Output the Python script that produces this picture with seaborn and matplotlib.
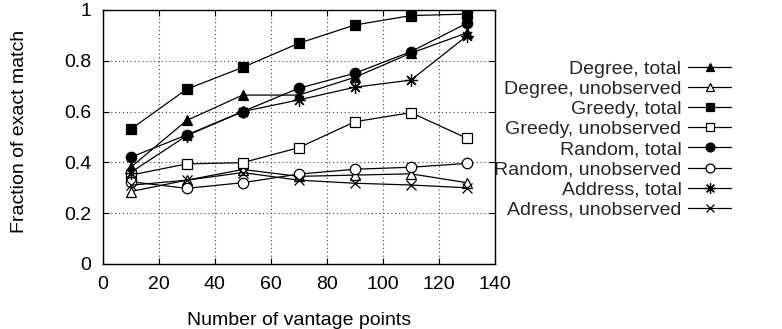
import matplotlib
matplotlib.use("Agg")
import matplotlib.pyplot as plt
import seaborn as sns
import pandas as pd

# Number of vantage points used in each run
vantage_points = [10, 30, 50, 70, 90, 110, 130]

degree_total = [0.38, 0.565, 0.665, 0.665, 0.735, 0.83, 0.91]
degree_unobserved = [0.285, 0.33, 0.372, 0.345, 0.35, 0.355, 0.32]
greedy_total = [0.53, 0.688, 0.774, 0.869, 0.941, 0.978, 0.984]
greedy_unobserved = [0.35, 0.394, 0.399, 0.458, 0.56, 0.596, 0.495]
random_total = [0.42, 0.508, 0.60, 0.692, 0.751, 0.836, 0.948]
random_unobserved = [0.324, 0.298, 0.32, 0.354, 0.373, 0.381, 0.396]
address_total = [0.36, 0.505, 0.60, 0.646, 0.696, 0.724, 0.898]
address_unobserved = [0.31, 0.33, 0.36, 0.33, 0.318, 0.311, 0.30]

x_ticks = [0, 20, 40, 60, 80, 100, 120, 140]
y_ticks = [0, 0.2, 0.4, 0.6, 0.8, 1]
y_tick_labels = ["0", "0.2", "0.4", "0.6", "0.8", "1"]

series = [
    ("Degree, total", degree_total, "^", "black", 7),
    ("Degree, unobserved", degree_unobserved, "^", "white", 7),
    ("Greedy, total", greedy_total, "s", "black", 7),
    ("Greedy, unobserved", greedy_unobserved, "s", "white", 7),
    ("Random, total", random_total, "o", "black", 7.5),
    ("Random, unobserved", random_unobserved, "o", "white", 7.5),
    ("Address, total", address_total, (8, 2, 0), "black", 9),
    ("Adress, unobserved", address_unobserved, "x", "black", 7),
]

sns.set_theme(style="white")
plt.rcParams["font.family"] = ["Liberation Sans", "DejaVu Sans"]
plt.rcParams["font.size"] = 14

fig = plt.figure(figsize=(7.82, 3.29), dpi=100)
ax = fig.add_axes([102.5 / 782, 1 - 264 / 329, 392.5 / 782, 254 / 329])

for label, values, marker, face, size in series:
    df = pd.DataFrame({"points": vantage_points, "fraction": values})
    sns.lineplot(
        data=df, x="points", y="fraction", ax=ax, color="black",
        linewidth=0.9, marker=marker, markersize=size,
        markerfacecolor=face, markeredgecolor="black", markeredgewidth=0.9,
        label=label, legend="auto",
    )

ax.set_xlim(0, 140)
ax.set_ylim(0, 1)
ax.set_xticks(x_ticks)
ax.set_xticklabels([str(t) for t in x_ticks])
ax.set_yticks(y_ticks)
ax.set_yticklabels(y_tick_labels)

ax.grid(True, color="#444444", linestyle=(0, (1, 2.5)), linewidth=0.8)
for spine in ax.spines.values():
    spine.set_visible(True)
    spine.set_color("black")
    spine.set_linewidth(1.0)

ax.tick_params(axis="both", which="major", direction="in", length=4.5,
               width=0.8, color="black", labelsize=14, labelcolor="black",
               top=True, right=True, bottom=True, left=True)
ax.tick_params(axis="x", pad=8.5)
ax.tick_params(axis="y", pad=8)

ax.set_xlabel("Number of vantage points", fontsize=14, color="black")
ax.set_ylabel("Fraction of exact match", fontsize=14, color="black")
ax.xaxis.set_label_coords(0.5, -0.19)
ax.yaxis.set_label_coords(-0.19, 0.52)

handles, labels = ax.get_legend_handles_labels()
ax.legend(
    handles, labels, loc="upper right",
    bbox_to_anchor=(731 / 782, 1 - 60 / 329), bbox_transform=fig.transFigure,
    frameon=False, markerfirst=False, handlelength=2.2, handletextpad=0.35,
    labelspacing=0.13, borderpad=0, borderaxespad=0, fontsize=14,
    markerscale=0.85,
)

fig.savefig("out.png", dpi=100)
